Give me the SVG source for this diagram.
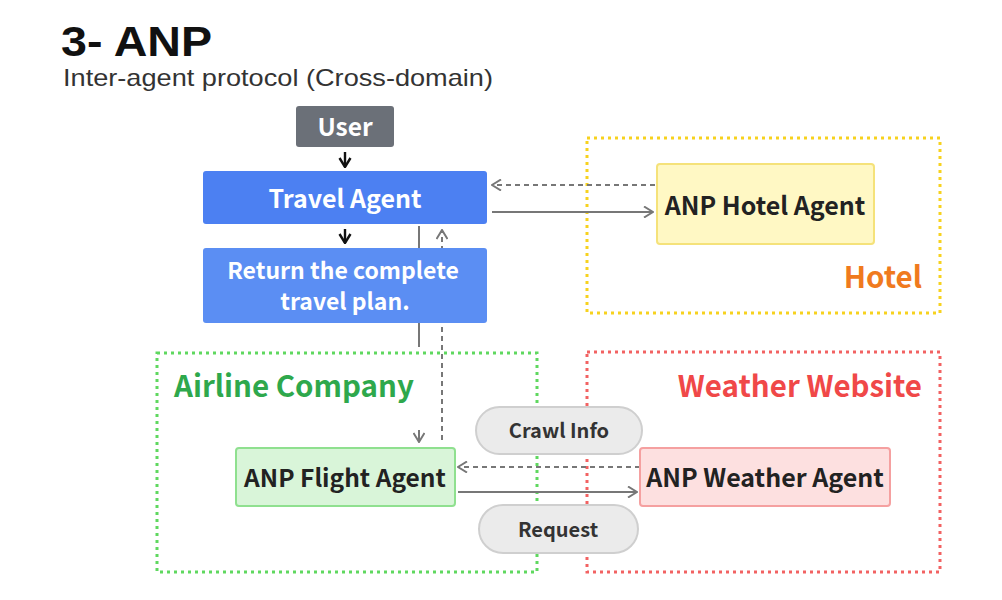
<svg xmlns="http://www.w3.org/2000/svg" width="1002" height="600" viewBox="0 0 1002 600">
<defs>
<marker id="chev" viewBox="0 0 12 12" refX="11" refY="6" markerWidth="12" markerHeight="12" markerUnits="userSpaceOnUse" orient="auto">
<path d="M2,0.5 L11,6 L2,11.5" fill="none" stroke="#777" stroke-width="2"/>
</marker>
<marker id="chevB" viewBox="0 0 12 12" refX="11" refY="6" markerWidth="12" markerHeight="14" markerUnits="userSpaceOnUse" orient="auto">
<path d="M2,0.5 L11,6 L2,11.5" fill="none" stroke="#111" stroke-width="2.4"/>
</marker>
<style>
.lbl{font-family:"Noto Sans CJK KR","Noto Sans",sans-serif;font-weight:700;text-anchor:middle}
.grp{fill:none;stroke-width:3;stroke-dasharray:3 4}
.sol{fill:none;stroke:#777;stroke-width:2;marker-end:url(#chev)}
.dsh{fill:none;stroke:#777;stroke-width:2;stroke-dasharray:5 4;marker-end:url(#chev)}
.blk{fill:none;stroke:#111;stroke-width:2.4;marker-end:url(#chevB)}
.pill{fill:#ebebeb;stroke:#cfcfcf;stroke-width:2}
</style>
</defs>
<rect width="1002" height="600" fill="#fff"/>
<text x="61" y="56" font-family="Liberation Sans,Arial,sans-serif" font-weight="700" font-size="42" fill="#111" textLength="151" lengthAdjust="spacingAndGlyphs">3- ANP</text>
<text x="63" y="86" font-family="Liberation Sans,Arial,sans-serif" font-size="24" fill="#333" textLength="430" lengthAdjust="spacingAndGlyphs">Inter-agent protocol (Cross-domain)</text>

<g id="hotel-group">
<rect class="grp" x="587" y="138" width="353" height="175" stroke="#f7d21e"/>
<text class="lbl" x="922" y="288" font-size="29.5" fill="#f07a1e" style="text-anchor:end">Hotel</text>
</g>
<g id="airline-group">
<rect class="grp" x="157" y="353" width="380" height="219" stroke="#5fd85f"/>
<text class="lbl" x="174" y="397" font-size="29.5" fill="#2ea84c" style="text-anchor:start">Airline Company</text>
</g>
<g id="weather-group">
<rect class="grp" x="587" y="352" width="353" height="220" stroke="#f26262"/>
<text class="lbl" x="922" y="397" font-size="29.5" fill="#f04848" style="text-anchor:end">Weather Website</text>
</g>

<g id="connectors">
<path class="blk" d="M345,152 V167"/>
<path class="blk" d="M345,229 V243"/>
<path class="dsh" d="M655,185 H492"/>
<path class="sol" d="M492,212 H653"/>
<path class="sol" d="M419,226 V347 M419,430 V442"/>
<path class="dsh" d="M442,440 V230"/>
<path class="dsh" d="M640,467 H458"/>
<path class="sol" d="M458,492 H637"/>
</g>

<g id="user">
<rect x="296" y="106" width="98" height="41" rx="3" fill="#6b7078"/>
<text class="lbl" x="345" y="136" font-size="24.5" fill="#fff">User</text>
</g>
<g id="travel-agent">
<rect x="203" y="171" width="284" height="53" rx="3" fill="#4c80f2"/>
<text class="lbl" x="345" y="208" font-size="25" fill="#fff">Travel Agent</text>
</g>
<g id="return-plan">
<rect x="203" y="248" width="284" height="75" rx="3" fill="#5b8ef3"/>
<text class="lbl" x="343" y="279" font-size="23" fill="#fff">Return the complete</text>
<text class="lbl" x="345" y="310" font-size="23" fill="#fff">travel plan.</text>
</g>
<g id="hotel-agent">
<rect x="657" y="164" width="217" height="80" rx="3" fill="#fff8c4" stroke="#f5e27a" stroke-width="2"/>
<text class="lbl" x="765" y="215" font-size="25" fill="#222">ANP Hotel Agent</text>
</g>
<g id="flight-agent">
<rect x="236" y="448" width="219" height="58" rx="3" fill="#d9f5d9" stroke="#8fe08f" stroke-width="2"/>
<text class="lbl" x="345" y="487" font-size="24.5" fill="#222">ANP Flight Agent</text>
</g>
<g id="weather-agent">
<rect x="640" y="448" width="250" height="58" rx="3" fill="#fde0e0" stroke="#f5a0a0" stroke-width="2"/>
<text class="lbl" x="765" y="487" font-size="25" fill="#222">ANP Weather Agent</text>
</g>
<g id="crawl-info">
<rect class="pill" x="476" y="407" width="166" height="47" rx="23.5"/>
<text class="lbl" x="559" y="438" font-size="20" fill="#333">Crawl Info</text>
</g>
<g id="request">
<rect class="pill" x="479" y="505" width="159" height="48" rx="24"/>
<text class="lbl" x="558" y="537" font-size="20" fill="#333">Request</text>
</g>
</svg>
